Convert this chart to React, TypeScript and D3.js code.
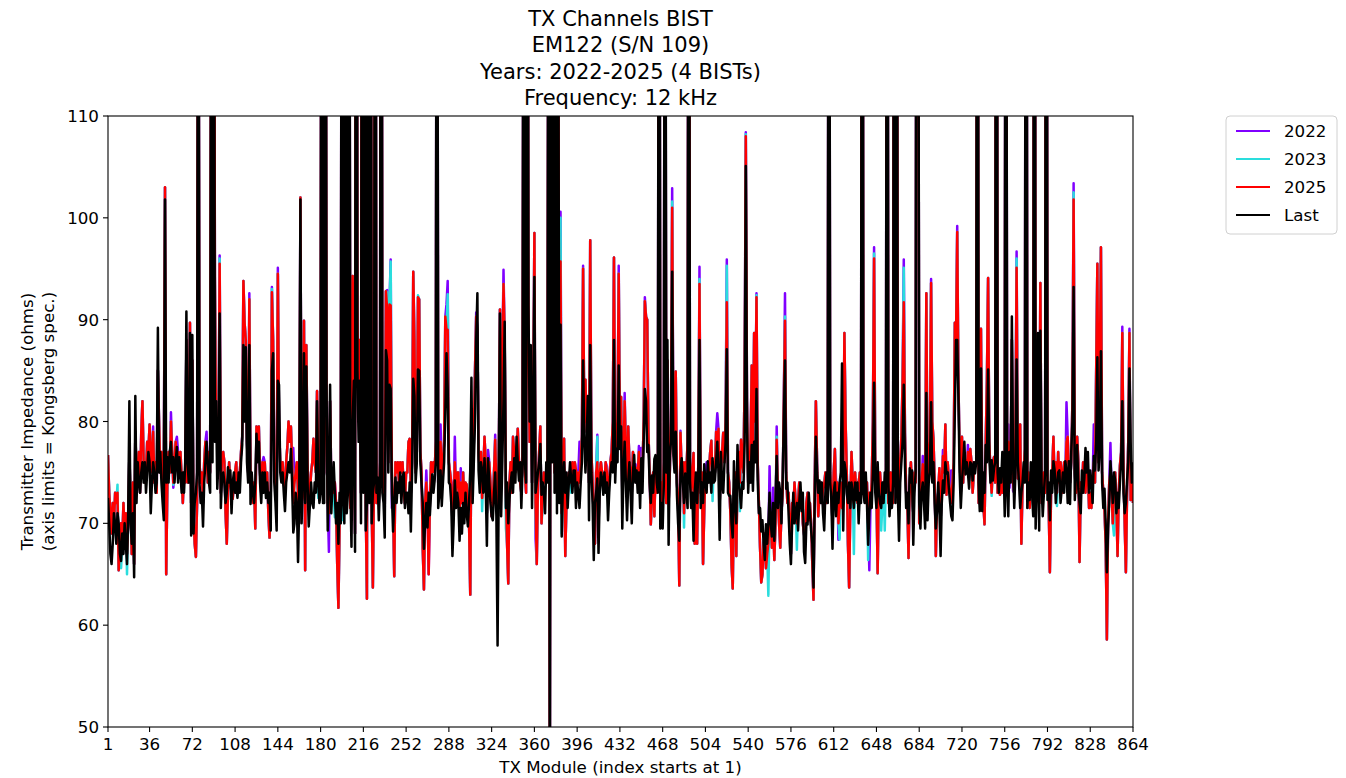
import React from 'react';
import * as d3 from 'd3';

const W = 1346;
const H = 778;
const PL = 108, PR = 1133, PT = 116, PB = 727;
const FONT = '"DejaVu Sans", Verdana, sans-serif';

const titleLines = ['TX Channels BIST', 'EM122 (S/N 109)', 'Years: 2022-2025 (4 BISTs)', 'Frequency: 12 kHz'];
const xLabel = 'TX Module (index starts at 1)';
const yLabelLines = ['Transmitter Impedance (ohms)', '(axis limits = Kongsberg spec.)'];
const xTicks = [1, 36, 72, 108, 144, 180, 216, 252, 288, 324, 360, 396, 432, 468, 504, 540, 576, 612, 648, 684, 720, 756, 792, 828, 864];
const yTicks = [50, 60, 70, 80, 90, 100, 110];
const xDomain = [1, 864];
const yDomain = [50, 110];

// "Last" BIST impedance per TX module (1..864)
const lastValues = [
  72.5,70,67,66,68,71,70,68,71,70,67,66.3,69,67,70,68,66,71,82,70,68,71,64.7,82.5,72,76,74,73,75,76,74,76,73,75,77,76,
  71,74,76,75,73,74,89.2,75,77,74,72,70.3,101.8,74,76.5,74,77,78,75,76.5,74,76,77.5,74,76.5,75,73,75,73,76,90.8,76,74,88.7,68.8,88.5,
  69,72,73,75,150,74,72,73,69.7,74,76,78,76,74,73,140,76,160,78,82,73.4,76,90.6,71.5,74.5,75,74,72,73,75.5,74,75.2,71,74,75,73,
  74,72.5,75,73,76,77.7,87.5,80,87.3,76,74,87.5,71.9,75,73,72,74,78.8,76,78,74,72,75,73,75,72.5,74,72,73,69.3,85,86.7,74,72,69.3,84,
  83.6,75,74,75,73,71.2,74,75,76,75,77.3,74,69.1,70,73,72,66.2,72,101.8,70,74,86.7,72,85.4,74,69.7,71.8,74,72,71.5,74,73,82,74,72,73,
  180,72,72,160,83.6,69.3,74,83.6,71,74,76,73,70,72,68,73,70,170,72,70,150,71,73,160,74,67.7,80,84,67.2,190,85,78,84,70,170,73,
  170,69.3,72,160,72,180,70,73,74,170,73,74.5,70.3,74,190,73,72,68.6,87,86,75,83.6,83.2,73,69.2,72,74.5,72,74,73,75,72,74.5,75,71.5,73,
  73,71,74,69.2,75,84.2,82.5,74,76,85.1,85,76,73.8,72,67.5,70,72,69.6,73,70.8,73,74.8,73,74.2,76,170,71.5,73,75.2,71.7,74,76,80.9,86.7,83.2,74,
  73.8,72,66.8,70,74.2,71.5,73,72,68.3,71.5,69,72,70,73,71,69.7,72,75.2,84.3,72,76,80,88,92.6,75.2,73,76,75.2,73,76.4,74,67.8,76.4,74,72,70.7,
  70.3,73,75,70.7,58,74,90.6,70.7,76,82,89.8,71.5,74,70,72.3,74,75,73,76.4,74,78.5,76,74.2,76,71.5,75.4,150,76,74,170,91.4,80,87.5,71.5,80,94.2,
  73,74,75,76,77.8,72.8,74,73,71,76,74,150,40,160,76,150,73,140,71,130,72,89.5,68.7,74,76,73,75,71.5,74,76,74.2,73,75.2,75.2,71.5,74,
  73,71.5,74,76,86,78.4,75,78,82.5,70.3,87.5,75,72,66.4,72,73,74.4,67.1,73,75,74.4,72.8,75,73,74,70.3,73,75,76,75,88,74,77.3,76,85.5,77.3,
  79.5,69.5,75,78,74,70.3,74,76,73,70,75,76.7,74,75.2,73,75,71.5,76.4,73,78,83.2,82,77,77.7,74,72,74.7,73,76.3,76.7,74,73,180,69.5,72,69.5,
  74,170,75,88,67.9,76.7,78,94.7,76.7,75,79,72.8,70,68.3,75,76.4,74,72,74.9,73,71.5,170,74.2,71.5,73,68.3,73,75,72,74.9,88,71.5,74,72,75.8,74,
  73,76.1,74,75,73,76.4,74,74.2,76,78,75,68.4,77,74,73,75.8,78,87.1,73,72.7,72.7,70,68.6,76.1,72,70,77.7,74,73,71.5,74,73.4,78,105.1,80,73,
  76,74,77.7,73.2,78,76,83.2,74.2,71,71.5,69.2,70.3,68,66.4,69.9,68,70,73,70,68.7,72,68.3,72,76.6,71.5,74,73,70,74,80,86,73.4,74,71,68,66,
  70,73,70,71,72,69.3,72,74,71.2,73,67.2,66.1,70,69.9,73,71,69.3,68,63.7,72,78.5,75,73,74.2,72,74,71,69.3,73,75,72,180,74,72.3,67.5,73,
  74,70.7,73,72,74,75,85.7,69.3,76,75.2,73,72,74,71.5,74,73,71.5,74,72.3,74,70,73,72,190,73,72,75,72,67.9,71,73,71.5,75,83.8,73,71.5,
  76,73,72,71.5,74,72,75,73,180,74,70.7,73,71.5,74,170,72,160,73,68.3,74,76,78,83.6,75.8,71.5,73,70,75.4,74,75.2,67.9,73,75,180,160,72,
  69.5,73,74,72,69.5,82.8,70.3,74,75,81.9,74,76,72,69.5,71.2,74,71.5,66.8,72,74.2,73,76,74.9,75,73.4,72,70.7,70.3,74,80.9,88,88,82.4,75,71.5,74,
  76,78,74.8,76,75,73.4,76,75.8,74.2,76,74.9,76,180,74,71.2,85.2,71.2,75,73,77.7,76,85.1,76.6,74,76.2,74.2,75.4,76,190,75,73,75.4,74,77,76.2,70.7,
  180,73,70.7,77,74,90.3,76,71.5,75,86.1,76,74,71.5,73,74,76,74,190,71.5,74,72.3,76,73,70.7,180,69.5,73,88.7,69.3,88.9,74,70.7,73,75,180,72.3,
  74,70.3,75.2,73,76.1,75.2,72,73.8,75,75.2,72,73.4,75,73,76.1,75.2,72,76.1,71.9,77,80,93.2,72.3,75,77.7,73.4,72,71,75.2,73,74.4,77.4,75,77,73,75.2,
  74,72,76.6,75.2,78,86.3,75.2,77,86.9,74,71.5,73.4,70,65.2,69.5,72,76.1,74.2,72,75,74.2,71,73,71.5,74,76,82,73,71,72,74.2,76,85.2,78,74,76,
];

// 2025 BIST impedance per TX module (1..864)
const values2025 = [
  76.7,73,71,69,72,70,73,72,73,65.4,69,70,68,72,69,71,67,70,77,72,67,74,66,79,75,74,77,73,79,82,76,74,75,78,77,79.7,
  75,77,79,74,76,73,85,80,75,77,73,75,103,65,74,77,75,80,77,74,76,78,76,77,75.5,77,74.6,72,75,74,88,74,78,89.7,72,86,
  71,68,66.7,72,150,76,74,75,72,76,78,77,74,77,75,140,80,160,94.2,78,80,77,95.5,73,76.5,77,76,71,68,73,76,74,73,72.4,74,75,
  76,73,74,75,77,78.5,93.8,89.7,88,78,75,92,74,73,72,74,69.5,79.5,78,79.5,75,73,76,74,76,73,75,71,68.6,72,92.7,88,76,74,72,94.5,
  80,76,75,76,74,73,76,77.5,80,78,79.5,76,72,74,75,76,73,70,102,72,73,89.9,65.4,87.5,76,72,73,75,76,78.3,76,75,83,76,74,76,
  180,74,75,160,80,72,71,82,74,75,73,74,72,66,61.7,70,73,170,74,71,150,73,75,160,71.5,72,94.3,80,69,190,91,80,88,73,170,75,
  170,72,62.6,160,74,180,72,63.7,75,170,72,74,72,76,190,75,74,71,92.8,91,76,91.5,91.4,75,72,64.8,76,75,76,74,76,75,76,73,71.9,75,
  75,78,78.3,73,76,94.7,88,75,77,92.2,92,77,75,67.5,63.5,72,74,72,65,72,76,75,76,75,78,170,74,76,78,74,76,78,90.3,89,89,76,
  75,74,70,72,76,73,75,75,71,74,72,75,71.9,74,73.8,71,70,63,80,74,78,85,90.3,89,77,75,77,72.5,75,78.5,76,71,75,76,74,70.7,
  72,75,78.2,73,70,76,91,74,86,93.5,88,73,68,64.1,74,76,73,78.5,77,75,77,79.3,76,74,73,77,150,75,73,170,88,78,85,74,82,98.5,
  72,66,74,77,79.5,70,73,75,74,75,76,150,40,160,78,150,75,140,73,130,74,95.7,71,73,78.3,66.8,72,74,75,74,75,76,74,76,75.2,73,
  75,74,76,78.5,95,80,84.1,79,80,74,97.8,76.9,74,70,68,75,76,69.5,74.8,76,75,74.8,74,76,75,73,74,76,77,80,96.1,76,78,80,94.5,78,
  82.4,73,76,82,77,73,79.5,76,75,73,77,75,75.5,74,75,77,73,75,75,80,91.8,90.3,90,79,75,69.9,73,75,70.7,75,73,75,180,72,74,72,
  76,170,72,86,72,75,80,101,78,77,84.9,74,72,63.9,78.9,75,76,71,76,75,78.1,170,76,73,75,76.9,68,74,68,76,93.5,73,75,66,71.2,75,
  75,74,75,77,78.1,74,76,75,79,77,79.3,72,75,77,78.9,76,80,91.7,75,74,71,66,63.6,73,75,66.8,75,77,74,78.2,76,75,84,108,82,74,
  74,78,85.5,76,88.7,80,92.2,76,72,67.6,64.2,65,68,69,65.6,67,68,71,70,67.6,70,66.4,70,78.2,73,70,67.6,71,73,82,89.9,75,72,73,70,67,
  72,71,74,72,70,72,74,72,72.4,70,69,68,72,73,70.3,72,70,66,62.5,74,82,76,70.7,73,74,72,73.4,73.8,75,72,74,180,75,73,70,75,
  77.3,72,74,70,72,74,71.5,72,88.7,80,75,68,63.7,72,77,74,72,75,73,72,74,75,73,190,75,74,72,74,70,73,72,74,80,96,75,73,
  65.1,74,75,73,72,74,73,75,180,72,73,75,73,72,170,74,160,75,72,76,78.5,84,91.7,78.9,73,72,66.6,74,76,73,71,75,74,180,160,70,
  72,74,75.8,73,72,92.6,73,76,78,93.6,80,78.3,74,66.8,72,73,75.4,70,74,76.6,75,79.7,72.8,76,74,73,72,74,76,89.7,88,98.6,84,77,73,78.5,
  74,76.5,76,75,77,75,77.3,76,73,75,76,75.8,180,72,76,89.1,74,72,69.9,78,84,94.1,78,75,73,76,76.5,74,190,73,75,72.8,74,73,75,73,
  180,75,78,74,76,88,74,73,78,95.1,74.4,76,79.7,68,74,75,77.3,190,73,75,71.5,74,75,73,180,72,75,86,73,93.6,72,74,75,73,180,74,
  72,65.2,73,75,78.5,74,76,73,77,74,76,75,73,76,74,78,78.5,75,74,76,82,101.8,75,73,78.5,76,66.2,74,73,76,75,73,76,75,71.5,73,
  71.5,74,76,74,85,95.5,76,84,97.1,75,73,71.3,68,58.6,70,74,75,73,70,73,75,72,66.8,73,75.7,77,88.7,75,70,65.2,73,78,88.7,72.3,75,72,
];

// 2022 and 2023 readings: identical to 2025 where hidden, except these modules [module, ohms]
const readings2022: [number, number][] = [
  [11,69.4],[39,79.5],[54,80.9],[56,73.5],[59,78.5],[68,74],[84,79],[95,96.3],[120,92.6],[132,76.5],[139,93.2],[144,95.1],
  [157,77.4],[187,67.2],[205,72.7],[236,92.9],[239,95.9],[240,71.5],[269,75.2],[281,79.7],[286,91.5],[287,93.8],[293,78.5],
  [298,75.4],[311,90.7],[321,77.2],[327,78.7],[334,94.9],[361,68.5],[382,100.6],[398,78],[401,95.3],[413,78.7],[415,75.6],
  [421,75.6],[425,77.2],[431,95.3],[436,82.8],[445,75.8],[448,77.6],[450,77.4],[453,92.2],[476,102.9],[483,79.1],[499,95.2],
  [505,76],[514,80.8],[522,95.9],[533,72],[538,108.4],[547,92.6],[558,75.6],[561,73.5],[564,79.5],[571,92.6],[614,74.2],
  [616,68.4],[639,72.7],[642,65.4],[646,97.1],[671,95.9],[687,76.6],[694,94],[704,77.2],[711,75.2],[716,99.2],[725,77.7],
  [759,79.7],[760,73.5],[763,73.2],[766,96.7],[808,81.9],[814,103.4],[831,79.7],[845,77.9],[848,71.7],[855,89.3],[861,89.1],
];
const readings2023: [number, number][] = [
  [9,73.8],[12,65.6],[17,65],[56,73.8],[95,96],[110,72.7],[139,93],[178,72.5],[192,70.6],[199,70.3],[236,92.7],[239,95.7],
  [262,92.4],[271,67.5],[287,92.5],[290,73],[316,71.2],[336,69.5],[361,70.8],[367,71.5],[382,100],[383,69],[391,73],[413,78.5],
  [476,101.6],[486,69.6],[499,94],[510,72.2],[522,95.3],[533,71.2],[538,108.2],[547,92.4],[557,62.9],[564,78.5],[571,90.3],
  [581,67.4],[617,68.4],[629,67],[641,66.4],[646,96.5],[652,69.3],[655,69.3],[671,95.1],[745,72.7],[766,96],[800,71.7],
  [814,102.5],[848,68.8],
];

const seriesNames = ['2022', '2023', '2025', 'Last'];
const seriesColors = ['#8000ff', '#2adddd', '#ff0000', '#000000'];

function withReadings(base: number[], readings: [number, number][]): number[] {
  const m = new Map(readings);
  return base.map((v, i) => (m.has(i + 1) ? (m.get(i + 1) as number) : v));
}

export default function App() {
  const x = d3.scaleLinear().domain(xDomain).range([PL, PR]);
  const y = d3.scaleLinear().domain(yDomain).range([PB, PT]);
  const values2022 = withReadings(values2025, readings2022);
  const values2023 = withReadings(values2025, readings2023);
  const all = [values2022, values2023, values2025, lastValues];
  const line = d3
    .line<number>()
    .x((_, i) => x(i + 1))
    .y((d) => y(d));

  const tickFs = 16.7;
  const legendRows = seriesNames.map((n, i) => ({ n, c: seriesColors[i], yy: 131 + i * 28 }));

  return (
    <svg
      width={W}
      height={H}
      style={{ position: 'absolute', left: 0, top: 0, background: '#fff' }}
      fontFamily={FONT}
    >
      <rect x={0} y={0} width={W} height={H} fill="#fff" />
      <defs>
        <clipPath id="plotclip">
          <rect x={PL} y={PT} width={PR - PL} height={PB - PT} />
        </clipPath>
      </defs>
      {titleLines.map((t, i) => (
        <text key={t} x={(PL + PR) / 2} y={26 + i * 26.3} textAnchor="middle" fontSize={21} fill="#000">
          {t}
        </text>
      ))}
      <g clipPath="url(#plotclip)">
        {all.map((vals, i) => (
          <path
            key={seriesNames[i]}
            d={line(vals) || ''}
            fill="none"
            stroke={seriesColors[i]}
            strokeWidth={2.5}
            strokeLinejoin="round"
            strokeLinecap="butt"
          />
        ))}
      </g>
      <rect x={PL} y={PT} width={PR - PL} height={PB - PT} fill="none" stroke="#000" strokeWidth={1.1} />
      {xTicks.map((t) => (
        <g key={'x' + t}>
          <line x1={x(t)} x2={x(t)} y1={PB} y2={PB + 5} stroke="#000" strokeWidth={1.1} />
          <text x={x(t)} y={PB + 22.5} textAnchor="middle" fontSize={tickFs} fill="#000">
            {t}
          </text>
        </g>
      ))}
      {yTicks.map((t) => (
        <g key={'y' + t}>
          <line x1={PL - 5} x2={PL} y1={y(t)} y2={y(t)} stroke="#000" strokeWidth={1.1} />
          <text x={PL - 9} y={y(t) + 6} textAnchor="end" fontSize={tickFs} fill="#000">
            {t}
          </text>
        </g>
      ))}
      <text x={(PL + PR) / 2} y={773} textAnchor="middle" fontSize={tickFs} fill="#000">
        {xLabel}
      </text>
      {yLabelLines.map((t, i) => (
        <text
          key={t}
          transform={`translate(${33 + i * 20.5},${(PT + PB) / 2}) rotate(-90)`}
          textAnchor="middle"
          fontSize={tickFs}
          fill="#000"
        >
          {t}
        </text>
      ))}
      <rect x={1226} y={116} width={111} height={118} rx={4} ry={4} fill="#fff" fillOpacity={0.8} stroke="#d0d0d0" strokeWidth={1} />
      {legendRows.map((r) => (
        <g key={r.n}>
          <line x1={1236} x2={1270} y1={r.yy} y2={r.yy} stroke={r.c} strokeWidth={2.1} />
          <text x={1284} y={r.yy + 6} fontSize={tickFs} fill="#000">
            {r.n}
          </text>
        </g>
      ))}
    </svg>
  );
}
